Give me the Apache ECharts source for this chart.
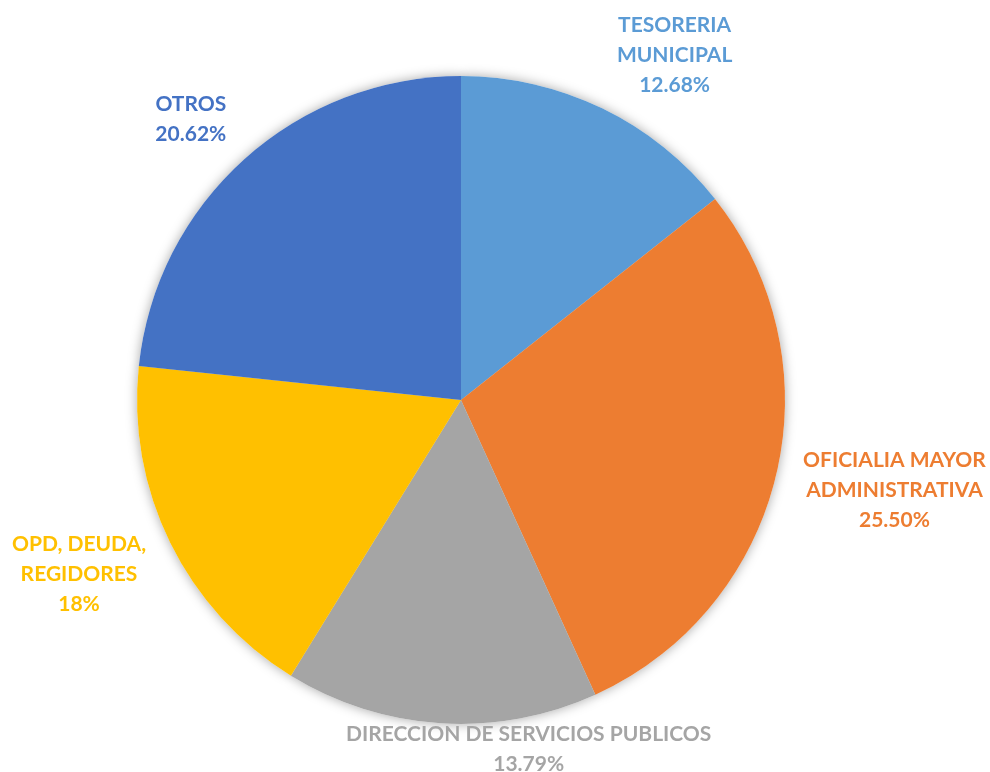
<!DOCTYPE html>
<html>
<head>
	<meta charset="utf-8">
	<title>Distribucion por dependencia</title>
	<style>
		html, body { margin:0; padding:0; background:#fff; }
		#chart { width:990px; height:772px; }
	</style>
</head>
<body>
<div id="chart"></div>
<script src="https://cdn.jsdelivr.net/npm/echarts@6/dist/echarts.min.js"></script>
<script>
	// datos
	var names = ['TESORERIA\nMUNICIPAL', 'OFICIALIA MAYOR\nADMINISTRATIVA', 'DIRECCION DE SERVICIOS PUBLICOS', 'OPD, DEUDA,\nREGIDORES', 'OTROS'];
	var values = [12.68, 25.50, 13.79, 15.8, 20.62];
	var pctText = ['12.68%', '25.50%', '13.79%', '18%', '20.62%'];
	var colors = ['#5B9BD5', '#ED7D31', '#A5A5A5', '#FFC000', '#4472C4'];

	// ajuste fino de cada etiqueta (px)
	var nudge = [[43, -8], [20, 2], [100, -10], [-22, 9], [-23, -14]];

	var pieData = values.map(function (v, i) {
		return {
			value: v,
			name: names[i],
			itemStyle: { color: colors[i] },
			label: { color: colors[i] }
		};
	});

	var option = {
		animation: false,
		series: [
			{
				// sombra por debajo
				type: 'pie',
				silent: true,
				z: 1,
				center: [461, 400],
				radius: 324,
				startAngle: 90,
				data: values,
				itemStyle: {
					color: '#ffffff',
					shadowBlur: 12,
					shadowColor: 'rgba(0,0,0,0.35)'
				},
				label: { show: false },
				labelLine: { show: false }
			},
			{
				type: 'pie',
				z: 2,
				center: [461, 400],
				radius: 324,
				startAngle: 90,
				avoidLabelOverlap: false,
				data: pieData,
				itemStyle: { borderWidth: 0 },
				label: {
					show: true,
					position: 'outside',
					formatter: function (p) {
						var lines = p.name.split('\n').concat(pctText[p.dataIndex]);
						return lines.map(function (s) { return '{t|' + s + '}'; }).join('\n');
					},
					rich: {
						t: {
							align: 'center',
							fontFamily: 'Lato',
							fontWeight: 'bold',
							fontSize: 21,
							lineHeight: 30
						}
					}
				},
				labelLine: {
					show: true,
					length: 10,
					length2: 0,
					lineStyle: { opacity: 0 }
				},
				labelLayout: function (p) {
					var pts = p.labelLinePoints;
					if (!pts) return {};
					var ux = pts[1][0] - pts[0][0], uy = pts[1][1] - pts[0][1];
					var len = Math.sqrt(ux * ux + uy * uy) || 1;
					ux /= len; uy /= len;
					var w = p.labelRect.width, h = p.labelRect.height;
					var n = nudge[p.dataIndex];
					return {
						x: pts[1][0] + ux * w / 2 + n[0],
						y: pts[1][1] + uy * h / 2 + n[1],
						align: 'center',
						verticalAlign: 'middle'
					};
				}
			}
		]
	};

	var myChart = echarts.init(document.getElementById('chart'));
	myChart.setOption(option);
</script>
</body>
</html>
